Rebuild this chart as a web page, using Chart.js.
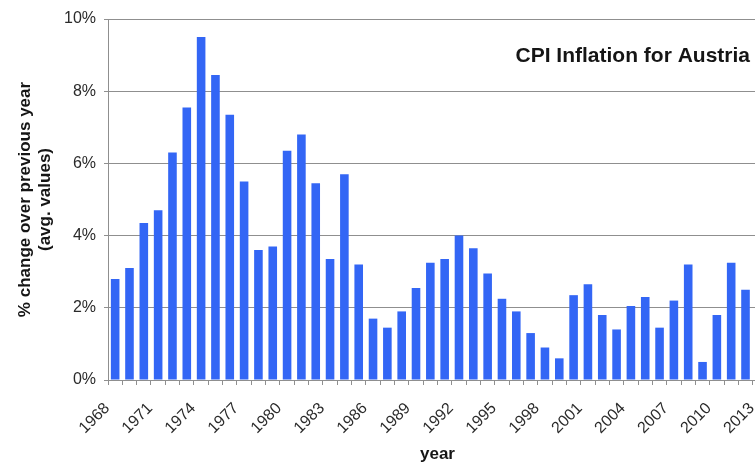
<!DOCTYPE html>
<html>
<head>
<meta charset="utf-8">
<title>CPI Inflation for Austria</title>
<script src="https://cdn.jsdelivr.net/npm/chart.js@4"></script>
<style>
html, body { margin: 0; padding: 0; background: #fff; overflow: hidden; }
#cpi { display: block; }
</style>
</head>
<body>
<canvas id="cpi" width="776" height="463"></canvas>
<script>
// yearly CPI change, % over previous year (annual averages)
var years = [1968, 1969, 1970, 1971, 1972, 1973, 1974, 1975, 1976, 1977,
             1978, 1979, 1980, 1981, 1982, 1983, 1984, 1985, 1986, 1987,
             1988, 1989, 1990, 1991, 1992, 1993, 1994, 1995, 1996, 1997,
             1998, 1999, 2000, 2001, 2002, 2003, 2004, 2005, 2006, 2007,
             2008, 2009, 2010, 2011, 2012, 2013];
var inflation = [2.8, 3.1, 4.35, 4.7, 6.3, 7.55, 9.5, 8.45, 7.35, 5.5,
                 3.6, 3.7, 6.35, 6.8, 5.45, 3.35, 5.7, 3.2, 1.7, 1.45,
                 1.9, 2.55, 3.25, 3.35, 4.0, 3.65, 2.95, 2.25, 1.9, 1.3,
                 0.9, 0.6, 2.35, 2.65, 1.8, 1.4, 2.05, 2.3, 1.45, 2.2,
                 3.2, 0.5, 1.8, 3.25, 2.5, null];
var labelledYears = [1968, 1971, 1974, 1977, 1980, 1983, 1986, 1989, 1992,
                     1995, 1998, 2001, 2004, 2007, 2010, 2013];
var yTicks = [0, 2, 4, 6, 8, 10];

var FONT = '"Liberation Sans", Arial, Helvetica, sans-serif';
var grey = '#8f8f8f';

var chartTitle = {
    id: 'chartTitle',
    afterDraw: function(chart) {
        var ctx = chart.ctx;
        ctx.save();
        ctx.font = 'bold 21px ' + FONT;
        ctx.fillStyle = '#151515';
        ctx.textAlign = 'right';
        ctx.textBaseline = 'alphabetic';
        ctx.fillText('CPI Inflation for Austria', 750, 62);
        ctx.restore();
    }
};

var ctx = document.getElementById('cpi').getContext('2d');
var cpiChart = new Chart(ctx, {
    type: 'bar',
    data: {
        labels: years,
        datasets: [{
            label: 'CPI',
            data: inflation,
            backgroundColor: '#3366f5',
            borderWidth: 0,
            barPercentage: 0.6,
            categoryPercentage: 1.0
        }]
    },
    options: {
        responsive: false,
        animation: false,
        devicePixelRatio: 1,
        layout: { padding: { top: 19, right: 9, left: 0, bottom: 0 } },
        plugins: {
            legend: { display: false },
            tooltip: { enabled: false }
        },
        scales: {
            x: {
                type: 'category',
                offset: true,
                afterFit: function(scale) {
                    // fixed band under the axis, no extra side padding for the slanted labels
                    scale.height = 83;
                    scale.paddingLeft = 0;
                    scale.paddingRight = 0;
                },
                grid: {
                    offset: true,
                    drawOnChartArea: false,
                    drawTicks: true,
                    tickLength: 5,
                    color: grey
                },
                border: { color: grey, width: 1 },
                ticks: {
                    autoSkip: false,
                    maxRotation: 45,
                    minRotation: 45,
                    padding: 14,
                    labelOffset: -8,
                    color: '#2a2a2a',
                    font: { family: FONT, size: 16 },
                    callback: function(val, i) {
                        var y = years[i];
                        return labelledYears.indexOf(y) >= 0 ? String(y) : '';
                    }
                },
                title: {
                    display: true,
                    text: 'year',
                    color: '#151515',
                    font: { family: FONT, size: 17, weight: 'bold', lineHeight: 1.0 },
                    padding: { top: 0, bottom: 0 }
                }
            },
            y: {
                min: 0,
                max: 10,
                afterFit: function(scale) { scale.width = 108; },
                afterBuildTicks: function(scale) {
                    scale.ticks = yTicks.map(function(v) { return { value: v }; });
                },
                grid: {
                    color: grey,
                    lineWidth: 1,
                    drawTicks: true,
                    tickLength: 4
                },
                border: { color: grey, width: 1 },
                ticks: {
                    padding: 8,
                    color: '#2a2a2a',
                    font: { family: FONT, size: 16 },
                    callback: function(v) { return v + '%'; }
                },
                title: {
                    display: true,
                    text: ['% change over previous year', '(avg. values)'],
                    color: '#151515',
                    font: { family: FONT, size: 17, weight: 'bold', lineHeight: 1.2 },
                    padding: { top: 15, bottom: 0 }
                }
            }
        }
    },
    plugins: [chartTitle]
});
</script>
</body>
</html>
